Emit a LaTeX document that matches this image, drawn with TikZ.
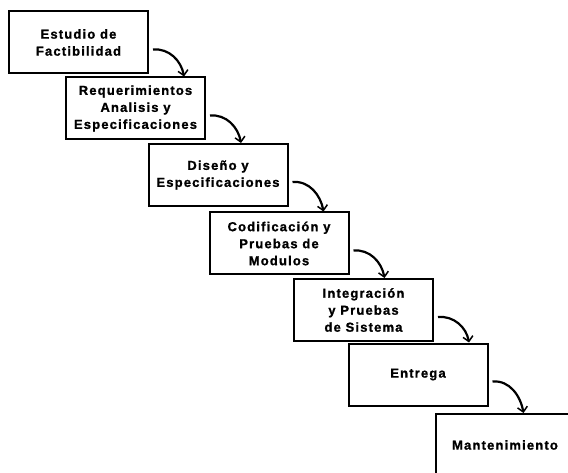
\documentclass[tikz,border=0pt]{standalone}
\usepackage{fontspec}
\setmainfont{Liberation Sans}[LetterSpace=9, BoldFeatures={FakeBold=1.2}]
\usetikzlibrary{arrows.meta}
\begin{document}
\begin{tikzpicture}[x=1pt,y=-1pt,
  stage/.style={draw=black, line width=2pt, fill=white,
    minimum width=139pt, minimum height=62pt, align=center,
    inner sep=2pt, font=\fontsize{13}{17}\selectfont\bfseries},
  flow/.style={draw=black, line width=2.2pt,
    -{Straight Barb[length=5pt,width=10pt,line width=1.5pt]}}]
  % page frame (the last stage runs off the bottom right corner)
  \fill[white] (0,0) rectangle (568,473);
  \clip (0,0) rectangle (568,473);

  % the stages, stepping down to the right
  \node[stage] (b1) at (78.5,42.5) {Estudio de\\Factibilidad};
  \node[stage] (b2) at (135.5,108.5) {Requerimientos\\Analisis y\\Especificaciones};
  \node[stage] (b3) at (218,175) {Diseño y\\Especificaciones};
  \node[stage] (b4) at (279,243.5) {Codificación y\\Pruebas de\\Modulos};
  \node[stage] (b5) at (363.5,310) {Integración\\y Pruebas\\de Sistema};
  \node[stage] (b6) at (418,374.5) {Entrega};
  \node[stage] (b7) at (505,445) {Mantenimiento};

  % curved hand-offs from each stage to the next
  \foreach \a/\b in {b1/b2,b2/b3,b3/b4,b4/b5,b5/b6,b6/b7}{
    \draw[flow] ([xshift=4pt,yshift=-7pt]\a.east) to[out=5,in=100]
      ([xshift=35pt]\a.east |- \b.north);
  }
\end{tikzpicture}
\end{document}
